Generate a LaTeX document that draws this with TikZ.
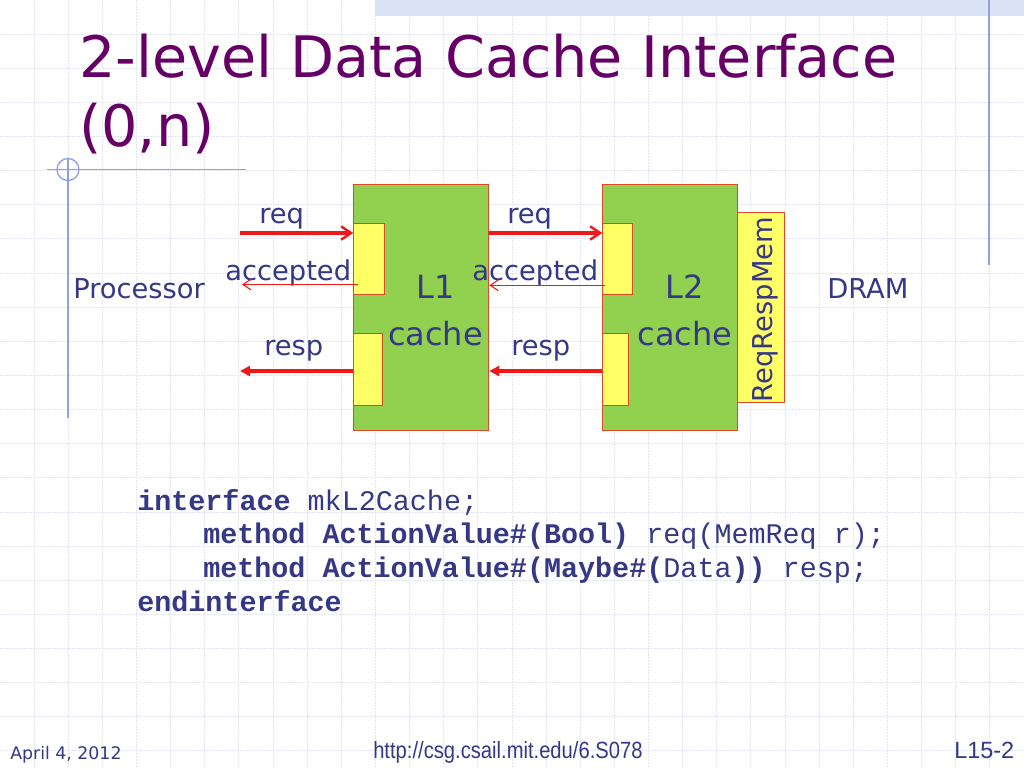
\documentclass[tikz,border=0pt]{standalone}
\usepackage{fontspec}
\setmainfont{DejaVu Sans}
\newfontfamily\codefont{Liberation Mono}
\newfontfamily\urlfont[FakeStretch=0.86]{Liberation Sans}
\newfontfamily\pagefont{Liberation Sans}
\usetikzlibrary{arrows.meta}
\definecolor{titlecol}{HTML}{660066}
\definecolor{navy}{HTML}{353885}
\definecolor{gridcol}{HTML}{E2E4F4}
\definecolor{decoblue}{HTML}{8FA2DE}
\definecolor{bandcol}{HTML}{DAE2F6}
\definecolor{cachegreen}{HTML}{92D050}
\definecolor{portyellow}{HTML}{FFFF66}
\definecolor{boxedge}{HTML}{E04828}
\definecolor{wirered}{HTML}{F01818}
\begin{document}
\begin{tikzpicture}[x=0.75pt,y=-0.75pt,
  gridline/.style={draw=gridcol, line width=0.75pt, dash pattern=on 1.5pt off 0.75pt},
  deco/.style={draw=decoblue, line width=1pt},
  box/.style={draw=boxedge, line width=0.75pt, inner sep=0pt, anchor=north west},
  lbl/.style={text=navy, inner sep=0pt, anchor=base west, font=\fontsize{20.5}{24}\selectfont},
  big/.style={text=navy, inner sep=0pt, anchor=base, font=\fontsize{24}{28}\selectfont},
  titletext/.style={text=titlecol, inner sep=0pt, anchor=base west, font=\fontsize{42.9}{50}\selectfont},
  code/.style={text=navy, inner sep=0pt, anchor=base west, font=\codefont\fontsize{21.3}{25}\selectfont},
  reqarrow/.style={draw=wirered, line width=2.4pt, -{Straight Barb[length=7.5pt,width=10pt,line width=1.8pt]}},
  resparrow/.style={draw=wirered, line width=2.4pt, -{Triangle[length=7.5pt,width=7.5pt]}},
  accarrow/.style={draw=wirered, line width=0.8pt, -{Straight Barb[length=6pt,width=8pt,line width=0.8pt]}}
]
\useasboundingbox (0,0) rectangle (1024,768);
\fill[white] (0,0) rectangle (1024,768);
% background grid
\foreach \k in {1,...,29} \draw[gridline] (\k*34.133,0) -- (\k*34.133,768);
\foreach \k in {1,...,22} \draw[gridline] (0,\k*34.133) -- (1024,\k*34.133);
% top band
\fill[bandcol] (375,0) rectangle (1024,16);
% decorative lines
\draw[deco] (989,0) -- (989,265);
\draw[deco] (68,158) -- (68,418);
\draw[deco] (47,169.5) -- (246,169.5);
\draw[deco] (68,169.5) circle[radius=11];
% title
\node[titletext] (t1) at (79,77) {2-level Data Cache Interface};
\node[titletext] (t2) at (79,146) {(0,n)};
% boxes
\node[box, fill=cachegreen, minimum width=135*0.75pt, minimum height=246*0.75pt] (l1) at (353.3,184) {};
\node[box, fill=portyellow, minimum width=31*0.75pt, minimum height=71.6*0.75pt] (l1top) at (353.3,222.7) {};
\node[box, fill=portyellow, minimum width=28.4*0.75pt, minimum height=72.6*0.75pt] (l1bot) at (353.3,332.7) {};
\node[box, fill=cachegreen, minimum width=135*0.75pt, minimum height=246*0.75pt] (l2) at (602.3,184) {};
\node[box, fill=portyellow, minimum width=29.4*0.75pt, minimum height=71.6*0.75pt] (l2top) at (602.3,222.7) {};
\node[box, fill=portyellow, minimum width=26*0.75pt, minimum height=72.6*0.75pt] (l2bot) at (602.3,332.7) {};
\node[box, fill=portyellow, minimum width=47*0.75pt, minimum height=190.6*0.75pt] (mem) at (737.3,211.7) {};
% box texts
\node[big] (l1a) at (435.5,298) {L1};
\node[big] (l1b) at (435.5,345.5) {cache};
\node[big] (l2a) at (685,298) {L2};
\node[big] (l2b) at (685,345.5) {cache};
\node[text=navy, inner sep=0pt, anchor=base, rotate=90, font=\fontsize{20.5}{24}\selectfont] (memtxt) at (772,309.5) {ReqRespMem};
% labels
\node[lbl] (proc) at (73,298) {Processor};
\node[lbl] (dram) at (827,298) {DRAM};
\node[lbl] (req1) at (259,223) {req};
\node[lbl] (acc1) at (225,280) {accepted};
\node[lbl] (resp1) at (264,355) {resp};
\node[lbl] (req2) at (507,223) {req};
\node[lbl] (acc2) at (472,280) {accepted};
\node[lbl] (resp2) at (511,355) {resp};
% wires
\coordinate (procreq) at (240,233);
\coordinate (procacc) at (242,284.5);
\coordinate (procresp) at (240,371);
\coordinate (l1acc) at (358,284.5);
\coordinate (l2acc) at (605,285.3);
\draw[reqarrow] (procreq) -- (procreq -| l1.west);
\draw[accarrow] (l1acc) -- (procacc);
\draw[resparrow] (procresp -| l1.west) -- (procresp);
\draw[reqarrow] (l1.east |- procreq) -- (l2.west |- procreq);
\draw[accarrow] (l2acc) -- (l2acc -| l1.east);
\draw[resparrow] (l2.west |- procresp) -- (l1.east |- procresp);
% code
\node[code] (c1) at (137,510) {\textbf{interface} mkL2Cache;};
\node[code] (c2) at (203,543.5) {\textbf{method ActionValue\#(Bool)} req(MemReq r);};
\node[code] (c3) at (203,577.5) {\textbf{method ActionValue\#(Maybe\#(}Data\textbf{))} resp;};
\node[code] (c4) at (137,611.5) {\textbf{endinterface}};
% footer
\node[inner sep=0pt, anchor=base west, text=navy, font=\fontsize{13}{15}\selectfont] (date) at (10,759) {April 4, 2012};
\node[inner sep=0pt, anchor=base west, text=navy, font=\urlfont\fontsize{17.6}{20}\selectfont] (url) at (373,758) {http://csg.csail.mit.edu/6.S078};
\node[inner sep=0pt, anchor=base west, text=navy, font=\pagefont\fontsize{17.6}{20}\selectfont] (page) at (954,758) {L15-2};
\end{tikzpicture}
\end{document}
